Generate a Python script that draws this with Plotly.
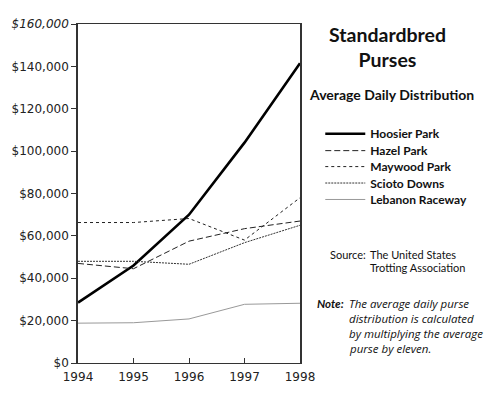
import plotly.graph_objects as go

years = [1994, 1995, 1996, 1997, 1998]
hoosier = [28500, 46000, 70000, 104000, 141500]
hazel = [47000, 44500, 57500, 63400, 67000]
maywood = [66300, 66300, 68200, 58000, 78000]
scioto = [48000, 48000, 46600, 56800, 65000]
lebanon = [18800, 19000, 20800, 27700, 28200]

series_names = ["Hoosier Park", "Hazel Park", "Maywood Park", "Scioto Downs", "Lebanon Raceway"]
series_values = [hoosier, hazel, maywood, scioto, lebanon]
styles = [
    dict(color="black", width=2.6, dash="solid"),
    dict(color="#222", width=1, dash="6px,3px"),
    dict(color="#222", width=1, dash="3px,3px"),
    dict(color="#333", width=1, dash="2px,1px"),
    dict(color="#999", width=1, dash="solid"),
]

y_ticks = [0, 20000, 40000, 60000, 80000, 100000, 120000, 140000, 160000]
y_labels = ["$0", "$20,000", "$40,000", "$60,000", "$80,000", "$100,000", "$120,000", "$140,000", "<i>$160,000</i>"]
x_labels = ["1994", "1995", "1996", "1997", "1998"]

L, T, W, H = 71, 24, 230, 340
def px(x):
    return (x - L) / W
def py(y):
    return 1 - (y - T) / H

fig = go.Figure()
legend_rows = [134, 151, 167, 183.5, 200]
layout_legends = {}
for i, (name, vals, st) in enumerate(zip(series_names, series_values, styles)):
    key = "legend" if i == 0 else f"legend{i + 1}"
    fig.add_trace(go.Scatter(x=years, y=vals, mode="lines", name=name, line=st, legend=key))
    layout_legends[key] = dict(
        x=px(322), y=py(legend_rows[i]), xanchor="left", yanchor="middle",
        font=dict(family="Lato", size=12, weight="bold", color="#111"),
        itemwidth=40, bgcolor="rgba(0,0,0,0)", borderwidth=0,
    )

fig.update_layout(
    width=484, height=396,
    margin=dict(l=L, r=484 - L - W, t=T, b=396 - T - H),
    paper_bgcolor="white", plot_bgcolor="white",
    font=dict(family="DejaVu Sans", size=11, color="#222"),
    showlegend=True,
    xaxis=dict(range=[1994, 1998], tickvals=years, ticktext=x_labels,
               showgrid=False, zeroline=False, showline=True, linecolor="#333",
               linewidth=1, mirror=True, ticks="inside", ticklen=5, tickcolor="#333",
               ticklabelstandoff=3,
               tickfont=dict(family="DejaVu Sans", size=12)),
    yaxis=dict(range=[0, 160000], tickvals=y_ticks, ticktext=y_labels,
               showgrid=False, zeroline=False, showline=True, linecolor="#333",
               linewidth=1.5, mirror=True, ticks="outside", ticklen=5, tickcolor="#333",
               tickfont=dict(family="DejaVu Sans", size=12)),
    **layout_legends,
)

annotations = [
    dict(text="<b>Standardbred<br>Purses</b>", x=391.5, y=47.5, font=dict(family="Lato", size=19.5, color="#111"), xanchor="center"),
    dict(text="<b>Average Daily Distribution</b>", x=395.5, y=95, font=dict(family="Lato", size=14, color="#111"), xanchor="center"),
    dict(text="Source:", x=330, y=255, font=dict(family="Lato", size=11, color="#111"), xanchor="left"),
    dict(text="The United States", x=371, y=255, font=dict(family="Lato", size=11, color="#111"), xanchor="left"),
    dict(text="Trotting Association", x=371, y=268.5, font=dict(family="Lato", size=11, color="#111"), xanchor="left"),
    dict(text="<b><i>Note:</i></b>", x=317, y=304, font=dict(family="Lato", size=11.5, color="#111"), xanchor="left"),
    dict(text="<i>The average daily purse</i>", x=350, y=304, font=dict(family="Open Sans", size=11.5, color="#111"), xanchor="left"),
    dict(text="<i>distribution is calculated</i>", x=350, y=319, font=dict(family="Open Sans", size=11.5, color="#111"), xanchor="left"),
    dict(text="<i>by multiplying the average</i>", x=350, y=334, font=dict(family="Open Sans", size=11.5, color="#111"), xanchor="left"),
    dict(text="<i>purse by eleven.</i>", x=350, y=349, font=dict(family="Open Sans", size=11.5, color="#111"), xanchor="left"),
]
for a in annotations:
    fig.add_annotation(
        text=a["text"], xref="paper", yref="paper",
        x=px(a["x"]), y=py(a["y"]),
        xanchor=a["xanchor"], yanchor="middle", showarrow=False,
        font=a["font"], align="left" if a["xanchor"] == "left" else "center",
    )

fig.write_html("out.html", config={"displayModeBar": False},
               post_script="document.body.style.margin='0';document.body.style.overflow='hidden';")
